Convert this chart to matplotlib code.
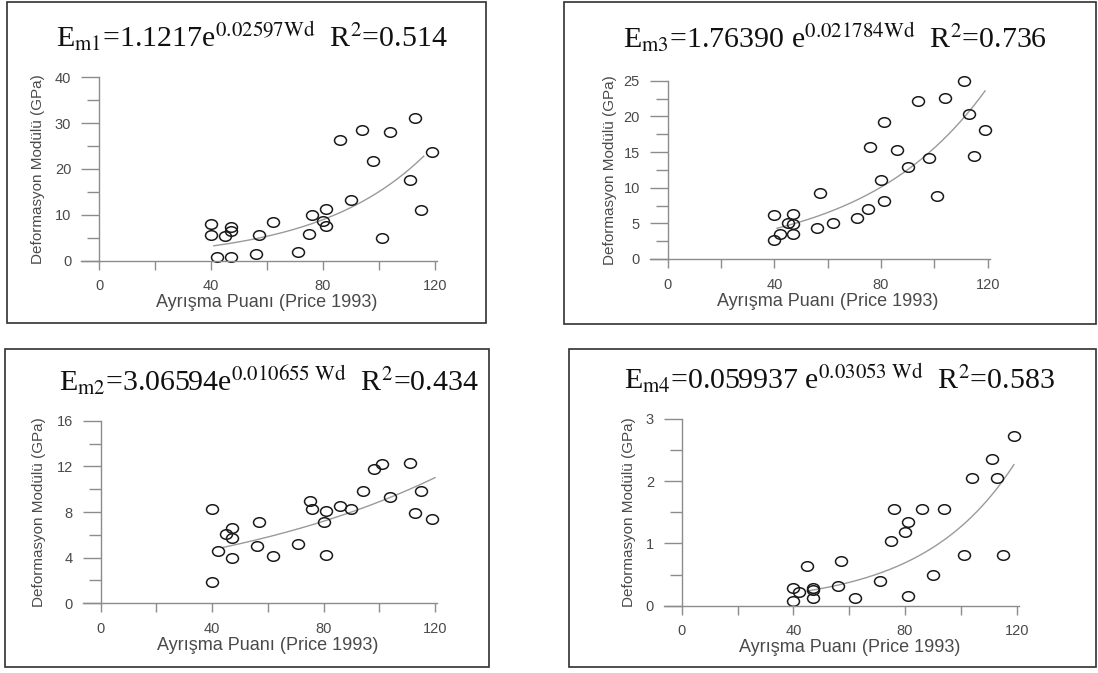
import matplotlib
matplotlib.use("Agg")
import matplotlib.pyplot as plt
import numpy as np
from matplotlib.patches import Rectangle
from matplotlib.path import Path
from matplotlib.transforms import Affine2D

plt.rcParams['mathtext.fontset'] = 'stix'

# Ayrisma puani (Wd) values, shared by the panels
wd = [40, 40, 42, 45, 47, 47, 47, 56, 57, 62, 71, 75, 76, 80, 81, 81,
      86, 90, 94, 98, 101, 104, 111, 113, 115, 119]
wd4 = [40, 40, 42, 45, 47, 47, 47, 56, 57, 62, 71, 75, 76, 80, 81, 81,
       86, 90, 94, 101, 104, 111, 113, 115, 119]

em1 = [7.9, 5.5, 0.9, 5.4, 7.4, 6.5, 0.9, 1.4, 5.5, 8.4, 1.8, 5.9, 10.0, 8.6,
       7.6, 11.3, 26.3, 13.2, 28.4, 21.7, 4.9, 28.1, 17.7, 31.1, 11.1, 23.6]
em3 = [6.1, 2.7, 3.5, 5.1, 6.3, 4.9, 3.5, 4.4, 9.3, 5.1, 5.7, 7.0, 15.7, 11.1,
       19.2, 8.1, 15.3, 12.9, 22.1, 14.1, 8.8, 22.6, 24.9, 20.3, 14.5, 18.1]
em2 = [8.3, 1.9, 4.55, 6.1, 6.6, 5.75, 4.0, 5.0, 7.15, 4.15, 5.2, 9.0, 8.3, 7.15,
       8.1, 4.2, 8.55, 8.3, 9.8, 11.8, 12.2, 9.3, 12.3, 7.9, 9.8, 7.35]
em4 = [0.28, 0.075, 0.225, 0.63, 0.28, 0.25, 0.12, 0.31, 0.72, 0.13, 0.40, 1.04,
       1.55, 1.18, 1.35, 0.155, 1.55, 0.49, 1.55, 0.81, 2.05, 2.36, 2.05, 0.81, 2.72]

# fit coefficients E = a * exp(b * Wd)
fit_a = [1.1217, 1.76390, 3.06594, 0.059937]
fit_b = [0.02597, 0.021784, 0.010655, 0.03053]
fit_from = [41, 41, 44, 45]
fit_to = [116, 119, 120, 119]

titles = [
    r'E$_{\mathrm{m1}}$=1.1217e$^{\mathrm{0.02597Wd}}$  R$^{\mathrm{2}}$=0.514',
    r'E$_{\mathrm{m3}}$=1.76390 e$^{\mathrm{0.021784Wd}}$  R$^{\mathrm{2}}$=0.736',
    r'E$_{\mathrm{m2}}$=3.06594e$^{\mathrm{0.010655\ Wd}}$  R$^{\mathrm{2}}$=0.434',
    r'E$_{\mathrm{m4}}$=0.059937 e$^{\mathrm{0.03053\ Wd}}$  R$^{\mathrm{2}}$=0.583',
]
ymax = [40, 25, 16, 3]
ystep = [10, 5, 4, 1]
xs = [wd, wd, wd, wd4]
ys = [em1, em3, em2, em4]

# layout in pixels: frame (l, t, r, b), data box (x=0, x=120, y=0, y=top)
frames = [(7, 2, 486, 323), (564, 2, 1096, 324), (5, 349, 489, 667), (569, 349, 1096, 667)]
boxes = [(99, 435, 260.7, 77.3), (667.7, 987.7, 259, 80.7),
         (100.7, 435, 603.3, 420.7), (681.7, 1016.7, 605.7, 419)]
title_pos = [(252, 47), (835, 48.5), (269, 392), (839, 389.5)]
ylab_off = [61, 58, 62, 53]

W, H = 1098, 673
fig = plt.figure(figsize=(W / 100, H / 100), dpi=100)

AX_COL = '#8c8c8c'
TXT_COL = '#4a4a4a'
PT = 72 / 100  # points per pixel

ell = Path.unit_circle().transformed(Affine2D().scale(1.0, 0.8))

for i in range(4):
    l, t, r, b = frames[i]
    fig.add_artist(Rectangle((l / W, 1 - b / H), (r - l) / W, (b - t) / H,
                             transform=fig.transFigure, fill=False,
                             ec='#303030', lw=1.2))

    x0, x120, y0, ytop = boxes[i]
    s = (x120 - x0) / 120
    tl = 18
    left_px, right_px = x0 - tl, x120 + 2
    ax = fig.add_axes([left_px / W, 1 - y0 / H, (right_px - left_px) / W, (y0 - ytop) / H])
    ax.set_facecolor('none')
    ax.set_xlim(-tl / s, 120 + 2 / s)
    ax.set_ylim(0, ymax[i])

    for side in ['top', 'right']:
        ax.spines[side].set_visible(False)
    ax.spines['left'].set_position(('data', 0))
    ax.spines['left'].set_bounds(0, ymax[i])
    for side in ['left', 'bottom']:
        ax.spines[side].set_color(AX_COL)
        ax.spines[side].set_linewidth(1.0)

    ax.set_xticks([0, 40, 80, 120])
    ax.set_xticks([20, 60, 100], minor=True)
    ax.set_yticks(np.arange(0, ymax[i] + 0.01, ystep[i]))
    ax.set_yticks(np.arange(ystep[i] / 2, ymax[i], ystep[i]), minor=True)
    ax.tick_params(axis='y', which='major', direction='out', length=18 * PT, width=1.0,
                   color=AX_COL, labelcolor=TXT_COL, labelsize=10.5, pad=7)
    ax.tick_params(axis='y', which='minor', direction='out', length=12 * PT, width=1.0,
                   color=AX_COL)
    ax.tick_params(axis='x', which='both', direction='out', length=9 * PT, width=1.0,
                   color=AX_COL, labelcolor=TXT_COL, labelsize=10.5, pad=7)
    for lab in ax.get_xticklabels() + ax.get_yticklabels():
        lab.set_family('Liberation Sans')

    xf = np.linspace(fit_from[i], fit_to[i], 200)
    ax.plot(xf, fit_a[i] * np.exp(fit_b[i] * xf), color='#9a9a9a', lw=1.0)
    ax.plot(xs[i], ys[i], linestyle='none', marker=ell, ms=8.6, mfc='none',
            mec='#1a1a1a', mew=1.1, clip_on=False)

    aw = right_px - left_px
    ah = y0 - ytop
    ax.text((60 - ax.get_xlim()[0]) * s / aw, -42 / ah, 'Ayrışma Puanı (Price 1993)',
            transform=ax.transAxes, ha='center', va='center', fontsize=13,
            family='Liberation Sans', color=TXT_COL)
    ax.text((tl - ylab_off[i]) / aw, 0.5, 'Deformasyon Modülü (GPa)',
            transform=ax.transAxes, ha='center', va='center', rotation=90,
            fontsize=11, family='Liberation Sans', color=TXT_COL)

    tx, tyb = title_pos[i]
    fig.text(tx / W, 1 - tyb / H, titles[i], ha='center', va='baseline',
             fontsize=21.5, family='Liberation Serif', color='#111111')

fig.savefig('out.png', dpi=100, facecolor='white')
